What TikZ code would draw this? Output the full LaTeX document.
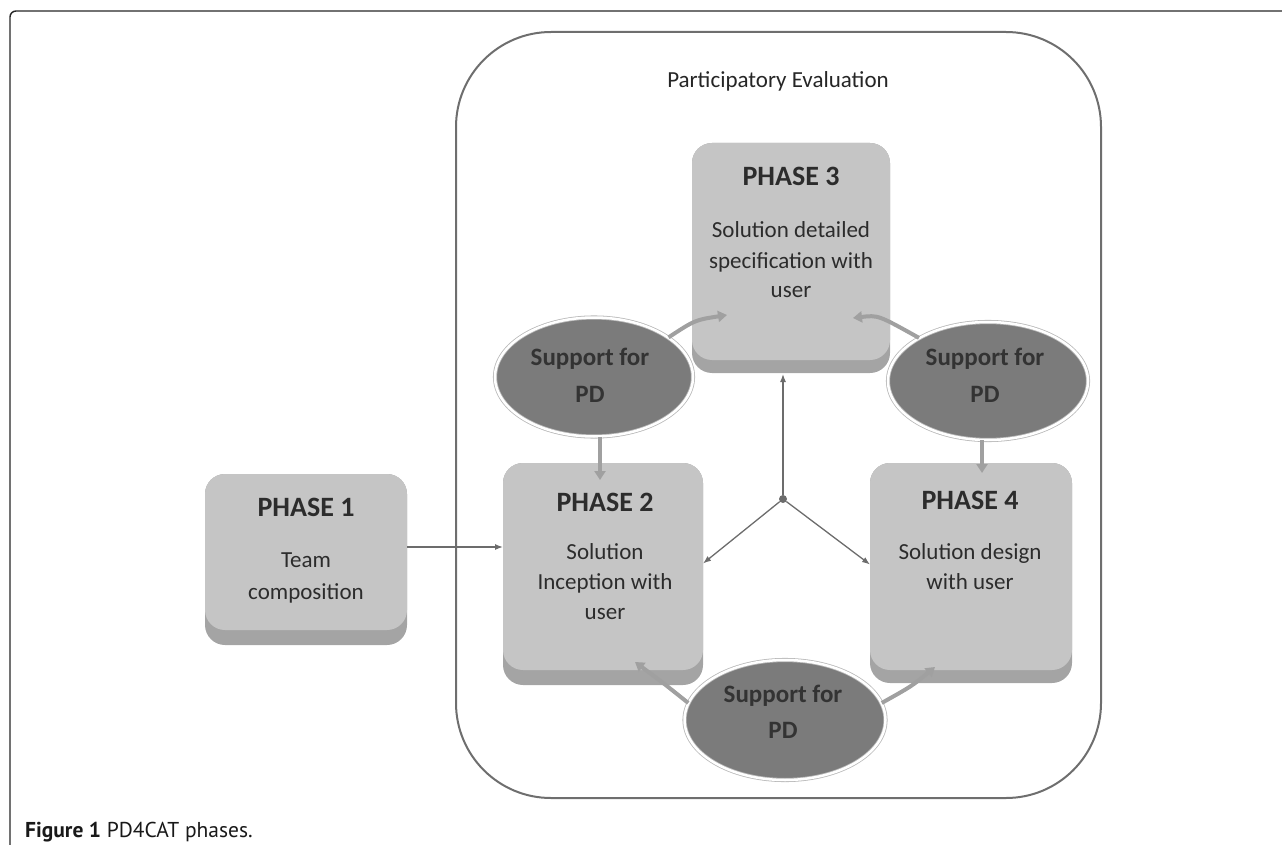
\documentclass[tikz,border=0pt]{standalone}
\usepackage{fontspec}
\setmainfont{Carlito}
\newfontfamily\capfont{PT Sans}
\usetikzlibrary{shapes.geometric,arrows.meta,calc,backgrounds}
\definecolor{facecol}{HTML}{C5C5C5}
\definecolor{basecol}{HTML}{A4A4A4}
\definecolor{ellcol}{HTML}{7B7B7B}
\definecolor{framecol}{HTML}{6E6E6E}
\definecolor{arrcol}{HTML}{6C6C6C}
\definecolor{fatcol}{HTML}{A0A0A0}
\definecolor{txtcol}{HTML}{2C2C2C}
\tikzset{
  face/.style={rectangle, rounded corners=20, fill=facecol, inner sep=0, outer sep=0},
  basepart/.style={fill=basecol, rounded corners=20},
  head/.style={font=\bfseries\fontsize{28}{30}\selectfont, text=txtcol, anchor=base, inner sep=0},
  body/.style={font=\fontsize{23}{26}\selectfont, text=txtcol, anchor=base, inner sep=0},
  supp/.style={ellipse, fill=ellcol, draw=gray!55, line width=0.8, double=white, double distance=2.5, inner sep=0},
  supptxt/.style={font=\bfseries\fontsize{25}{28}\selectfont, text=black!80, anchor=base, inner sep=0},
  thinarr/.style={draw=arrcol, line width=1.3, -{Latex[length=8,width=6]}},
  fatarr/.style={draw=fatcol, line width=4, -{Triangle[length=9,width=11]}},
}
\begin{document}
\begin{tikzpicture}[x=1pt,y=-1pt]
\useasboundingbox (0,0) rectangle (1282,845);
% outer page frame
\draw[black!85, line width=1.4, rounded corners=6] (1282,11) -- (10,11) -- (10,845);
% participatory evaluation frame
\draw[framecol, line width=2, rounded corners=95] (456,32) rectangle (1101,798);
\node[font=\fontsize{23}{26}\selectfont, text=black!85, anchor=base, inner sep=0] (title) at (778,88) {Participatory Evaluation};

% phase faces
\node[face, minimum width=202, minimum height=156] (p1) at (306,552) {};
\node[face, minimum width=200, minimum height=207] (p2) at (603,566.5) {};
\node[face, minimum width=198, minimum height=217] (p3) at (791,251.5) {};
\node[face, minimum width=202, minimum height=207] (p4) at (971,566.5) {};
\begin{pgfonlayer}{background}
  \fill[basepart] (p1.north west) rectangle ($(p1.south east)+(0,15)$);
  \fill[basepart] (p2.north west) rectangle ($(p2.south east)+(0,15)$);
  \fill[basepart] (p3.north west) rectangle ($(p3.south east)+(0,13)$);
  \fill[basepart] (p4.north west) rectangle ($(p4.south east)+(0,13)$);
\end{pgfonlayer}

% phase texts
\node[head] (p1h) at (306,516) {PHASE 1};
\node[body] (p1a) at (306,567) {Team};
\node[body] (p1b) at (306,599) {composition};

\node[head] (p2h) at (605,511) {PHASE 2};
\node[body] (p2a) at (605,559) {Solution};
\node[body] (p2b) at (605,589) {Inception with};
\node[body] (p2c) at (605,619) {user};

\node[head] (p3h) at (791,186) {PHASE 3};
\node[body] (p3a) at (791,237) {Solution detailed};
\node[body] (p3b) at (791,268) {specification with};
\node[body] (p3c) at (791,297) {user};

\node[head] (p4h) at (970,509) {PHASE 4};
\node[body] (p4a) at (970,559) {Solution design};
\node[body] (p4b) at (970,589) {with user};

% support ellipses
\node[supp, minimum width=198, minimum height=119] (e1) at (594,377) {};
\node[supp, minimum width=200, minimum height=118] (e2) at (988,381) {};
\node[supp, minimum width=201, minimum height=120] (e3) at (785,720) {};
\node[supptxt] (e1a) at (590,365) {Support for};
\node[supptxt] (e1b) at (590,402) {PD};
\node[supptxt] (e2a) at (985,365) {Support for};
\node[supptxt] (e2b) at (985,402) {PD};
\node[supptxt] (e3a) at (783,702) {Support for};
\node[supptxt] (e3b) at (783,738) {PD};

% hub and thin connectors
\node[circle, fill=arrcol, inner sep=0, minimum size=8] (hub) at (783,499) {};
\draw[thinarr] (hub) -- ($(hub |- p3.south)+(0,14)$);
\draw[thinarr] (hub) -- ($(p2.east)+(0,-3)$);
\draw[thinarr] (hub) -- ($(p4.west)+(0,-2)$);
\draw[thinarr] ($(p1.east)+(0,-5)$) -- ($(p1.east -| p2.west)+(0,-5)$);

% thick support arrows
\coordinate (t31) at (727,315);
\coordinate (t32) at (853,318);
\coordinate (t2) at (600,480);
\coordinate (t4) at (982,473);
\coordinate (t2b) at (635,662);
\coordinate (t4b) at (935,667);
\draw[fatarr] (e1.28) .. controls (695,320) .. (t31);
\draw[fatarr] (e2.148) .. controls (878,315) .. (t32);
\draw[fatarr] (t2 |- e1.south) -- (t2);
\draw[fatarr] (t4 |- e2.south) -- (t4);
\draw[fatarr] (e3.170) .. controls (662,682) .. (t2b);
\draw[fatarr] (e3.10) .. controls (912,686) .. (t4b);

% caption
\node[anchor=base west, inner sep=0, font=\capfont\fontsize{21.5}{24}\selectfont, text=black!90] (cap) at (25,837) {\textbf{Figure 1} PD4CAT phases.};
\end{tikzpicture}
\end{document}
